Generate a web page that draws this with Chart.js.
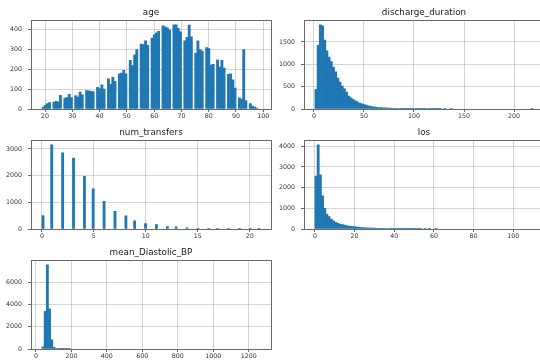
<!DOCTYPE html>
<html>
<head>
<meta charset="utf-8">
<script src="https://cdn.jsdelivr.net/npm/chart.js@4.4.1/dist/chart.umd.min.js"></script>
<style>
  html, body { margin: 0; padding: 0; background: #ffffff; width: 540px; height: 360px; overflow: hidden; position: relative; }
  canvas { position: absolute; }
</style>
</head>
<body>
<canvas id="c_age" width="281" height="120" style="left:0px;top:0px"></canvas>
<canvas id="c_discharge" width="284" height="120" style="left:270px;top:0px"></canvas>
<canvas id="c_transfers" width="281" height="120" style="left:0px;top:120px"></canvas>
<canvas id="c_los" width="284" height="120" style="left:270px;top:120px"></canvas>
<canvas id="c_bp" width="281" height="120" style="left:0px;top:240px"></canvas>
<script>
// ---------------- DATA ----------------
// age: patient counts per integer age, 100-bin histogram over the bin range
const ageValues = [19,20,21,22,23,24,25,26,27,28,29,30,31,32,33,34,35,36,37,38,
  39,40,41,42,43,44,45,46,47,48,49,50,51,52,53,54,55,56,57,58,
  59,60,61,62,63,64,65,66,67,68,69,70,71,72,73,74,75,76,77,78,
  79,80,81,82,83,84,85,86,87,88,89,90,91,92,93,94,95,96,97,98];
const ageCounts = [8,18,28,32,35,39,36,69,55,58,74,58,68,60,85,72,93,92,89,88,
  109,103,122,101,152,125,160,140,178,182,195,178,246,220,274,300,328,325,345,322,
  358,375,385,392,420,415,410,400,426,426,408,390,345,362,424,365,283,345,300,293,
  310,305,222,226,248,212,246,207,175,178,148,106,56,50,300,42,28,15,10,5];
const ageBinRange = [18.85, 98.85];

// discharge_duration: counts per bin (100 bins)
const dischargeBinCounts = [440,1430,1885,1860,1540,1300,1160,1060,940,830,
  690,600,510,450,380,290,250,215,185,160,
  135,115,98,85,70,58,50,44,38,34,
  30,27,24,21,19,17,15,13,11,10,
  9,8,7,6,5,12,8,14,6,10,
  16,12,5,3,2,2,1,1,0,1,
  0,0,1,0,0,0,0,0,0,0,
  0,0,0,0,0,0,0,0,0,0,
  0,0,0,0,0,0,0,0,0,0,
  0,0,0,0,0,0,0,0,0,8];
const dischargeBinRange = [1, 219];

// num_transfers: counts per integer number of transfers
const transferValues = [0,1,2,3,4,5,6,7,8,9,10,11,12,13,14,15,16,17,18,19,20,21];
const transferCounts = [500,3157,2850,2660,1970,1500,1040,660,490,310,200,165,90,80,40,25,15,10,8,5,5,3];
const transferBinRange = [0, 21];

// los: counts per bin (100 bins)
const losBinCounts = [2560,4070,2610,1600,1000,710,600,480,390,320,
  270,240,210,185,165,145,128,112,100,90,
  80,72,65,58,52,47,43,39,35,32,
  29,27,25,23,21,19,18,17,16,15,
  14,13,12,11,10,10,9,8,7,0,
  2,0,1,0,0,1,0,0,0,0,
  0,0,0,0,0,0,0,0,0,0,
  0,0,0,0,0,0,0,0,0,0,
  0,0,0,0,0,0,0,0,0,0,
  0,0,0,0,0,0,0,0,0,0];
const losBinRange = [0, 110];

// mean_Diastolic_BP: counts per bin (100 bins)
const bpBinCounts = [200,3380,7576,3620,820,160,45,15,6,3,
  2,1,1,0,0,0,0,0,0,0,
  0,0,0,0,0,0,0,0,0,0,
  0,0,0,0,0,0,0,0,0,0,
  0,0,0,0,0,0,0,0,0,0,
  0,0,0,0,0,0,0,0,0,0,
  0,0,0,0,0,0,0,0,0,0,
  0,0,0,0,0,0,0,0,0,0,
  0,0,0,0,0,0,0,0,0,0,
  0,0,0,0,0,0,0,0,0,0];
const bpBinRange = [33.5, 1264.5];

// tick steps (x, y) for each panel
const ageTickSteps = [10, 100];
const dischargeTickSteps = [50, 500];
const transferTickSteps = [5, 1000];
const losTickSteps = [20, 1000];
const bpTickSteps = [200, 2000];

const titles = ['age', 'discharge_duration', 'num_transfers', 'los', 'mean_Diastolic_BP'];

// ---------------- helpers ----------------
const N_BINS = 100;
const FONT = '"DejaVu Sans", "Liberation Sans", sans-serif';
const BAR = '#1f77b4';
const GRID = 'rgba(176,176,176,0.55)';
const SPINE = '#6a6a6a';

function binValues(values, counts, range) {
  const [lo, hi] = range;
  const w = (hi - lo) / N_BINS;
  const bins = new Array(N_BINS).fill(0);
  values.forEach((v, i) => {
    let k = Math.floor((v - lo) / w + 1e-9);
    if (k >= N_BINS) k = N_BINS - 1;
    if (k < 0) k = 0;
    bins[k] += counts[i];
  });
  return bins;
}

function toPoints(bins, range) {
  const [lo, hi] = range;
  const w = (hi - lo) / bins.length;
  return bins.map((c, k) => ({ x: lo + (k + 0.5) * w, y: c === 0 ? null : c }));
}

function stepTicks(scale, step) {
  const ticks = [];
  const start = Math.ceil(scale.min / step - 1e-9);
  for (let k = start; k * step <= scale.max + 1e-9; k++) {
    ticks.push({ value: k * step });
  }
  scale.ticks = ticks;
}

const framePlugin = {
  id: 'frame',
  afterDraw(chart) {
    const { ctx, chartArea: a } = chart;
    const al = v => Math.round(v - 0.5) + 0.5;
    ctx.save();
    ctx.strokeStyle = SPINE;
    ctx.lineWidth = 1;
    const l = al(a.left), t = al(a.top), r = al(a.right), b = al(a.bottom);
    ctx.strokeRect(l, t, r - l, b - t);
    ctx.restore();
  }
};

function makeHist(id, title, bins, range, steps, yAxisWidth) {
  const [lo, hi] = range;
  const span = hi - lo;
  const xMin = lo - 0.05 * span;
  const xMax = hi + 0.05 * span;
  const yMax = 1.05 * Math.max(...bins);
  const tickFont = { family: FONT, size: 6.3 };
  const gridOpts = { color: GRID, lineWidth: 1, drawTicks: true, tickLength: 3, tickColor: SPINE, tickWidth: 1, offset: false };
  return new Chart(document.getElementById(id), {
    type: 'bar',
    data: {
      datasets: [{
        label: title,
        data: toPoints(bins, range),
        backgroundColor: BAR,
        borderWidth: 0,
        barPercentage: 1,
        categoryPercentage: 1
      }]
    },
    options: {
      responsive: false,
      animation: false,
      devicePixelRatio: 1,
      layout: { padding: { left: 0, right: 10, top: 0, bottom: 0 } },
      plugins: {
        legend: { display: false },
        tooltip: { enabled: false },
        title: {
          display: true,
          text: title,
          fullSize: false,
          color: '#1a1a1a',
          font: { family: FONT, size: 8.8, weight: 'normal', lineHeight: '11px' },
          padding: { top: 7.5, bottom: 2 }
        }
      },
      scales: {
        x: {
          type: 'linear',
          min: xMin,
          max: xMax,
          offset: false,
          z: 1,
          grid: gridOpts,
          border: { display: false },
          ticks: {
            autoSkip: false,
            maxRotation: 0,
            minRotation: 0,
            padding: 1,
            color: '#333333',
            font: tickFont,
            callback: v => String(v)
          },
          afterBuildTicks: s => stepTicks(s, steps[0]),
          afterFit: s => { s.height = 11; }
        },
        y: {
          type: 'linear',
          min: 0,
          max: yMax,
          z: 1,
          grid: gridOpts,
          border: { display: false },
          ticks: {
            autoSkip: false,
            padding: 6,
            color: '#333333',
            font: tickFont,
            callback: v => String(v)
          },
          afterBuildTicks: s => stepTicks(s, steps[1]),
          afterFit: s => { s.width = yAxisWidth; }
        }
      }
    },
    plugins: [framePlugin]
  });
}

makeHist('c_age', titles[0], binValues(ageValues, ageCounts, ageBinRange), ageBinRange, ageTickSteps, 31);
makeHist('c_discharge', titles[1], dischargeBinCounts, dischargeBinRange, dischargeTickSteps, 34);
makeHist('c_transfers', titles[2], binValues(transferValues, transferCounts, transferBinRange), transferBinRange, transferTickSteps, 31);
makeHist('c_los', titles[3], losBinCounts, losBinRange, losTickSteps, 34);
makeHist('c_bp', titles[4], bpBinCounts, bpBinRange, bpTickSteps, 31);
</script>
</body>
</html>
